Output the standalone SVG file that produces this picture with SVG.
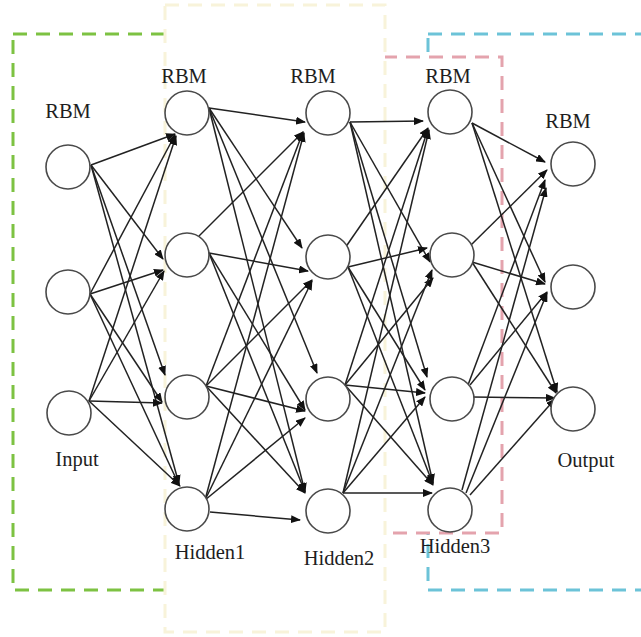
<svg xmlns="http://www.w3.org/2000/svg" width="641" height="637" viewBox="0 0 641 637">
  <style>
    .frame { fill: #ffffff; stroke-width: 3; stroke-dasharray: 14 9; }
    .green { stroke: #7dc242; }
    .blue { stroke: #6cc3d8; }
    .pink { stroke: #e4a3ad; }
    .yellow { stroke: #f8f3da; }
    .edge { stroke: #222222; stroke-width: 1.5; fill: none; marker-end: url(#arrow); }
    .unit { fill: #ffffff; stroke: #4a4a4a; stroke-width: 1.6; }
    .lbl { font-family: "Liberation Serif", "Times New Roman", serif; font-size: 20.5px; fill: #1e1e1e; text-anchor: middle; }
  </style>
  <defs>
    <marker id="arrow" markerUnits="userSpaceOnUse" markerWidth="10" markerHeight="8" refX="9" refY="4" orient="auto">
      <path d="M0,0 L10,4 L0,8 z" fill="#111111"/>
    </marker>
  </defs>

  <rect width="641" height="637" fill="#ffffff"/>

  <!-- RBM stage frames (later frames overlap earlier ones) -->
  <g id="frames">
    <rect id="frame-input" class="frame green" x="13" y="34" width="190" height="556"/>
    <rect id="frame-output" class="frame blue" x="428" y="34" width="235" height="556"/>
    <rect id="frame-hidden3" class="frame pink" x="360" y="57" width="142" height="476"/>
    <rect id="frame-hidden1" class="frame yellow" x="165" y="5" width="220" height="627"/>
  </g>

  <!-- weighted connections between consecutive layers -->
  <g id="connectors">
    <!-- Input -> Hidden1 -->
    <line class="edge" x1="91" y1="165" x2="175" y2="134"/>
    <line class="edge" x1="91" y1="165" x2="163" y2="259"/>
    <line class="edge" x1="91" y1="165" x2="165" y2="375"/>
    <line class="edge" x1="91" y1="165" x2="179" y2="484"/>
    <line class="edge" x1="90" y1="294" x2="175" y2="135"/>
    <line class="edge" x1="90" y1="294" x2="163" y2="270"/>
    <line class="edge" x1="90" y1="294" x2="162" y2="402"/>
    <line class="edge" x1="90" y1="294" x2="179" y2="485"/>
    <line class="edge" x1="89" y1="401" x2="176" y2="136"/>
    <line class="edge" x1="89" y1="401" x2="164" y2="271"/>
    <line class="edge" x1="89" y1="401" x2="162" y2="403"/>
    <line class="edge" x1="89" y1="401" x2="180" y2="486"/>

    <!-- Hidden1 -> Hidden2 -->
    <line class="edge" x1="209" y1="108" x2="305" y2="122"/>
    <line class="edge" x1="209" y1="108" x2="302" y2="248"/>
    <line class="edge" x1="209" y1="108" x2="317" y2="373"/>
    <line class="edge" x1="209" y1="108" x2="305" y2="492"/>
    <line class="edge" x1="199" y1="236" x2="303" y2="132"/>
    <line class="edge" x1="209" y1="253" x2="308" y2="271"/>
    <line class="edge" x1="209" y1="253" x2="305" y2="410"/>
    <line class="edge" x1="209" y1="253" x2="305" y2="492"/>
    <line class="edge" x1="206" y1="386" x2="303" y2="132"/>
    <line class="edge" x1="206" y1="386" x2="312" y2="280"/>
    <line class="edge" x1="206" y1="386" x2="305" y2="411"/>
    <line class="edge" x1="206" y1="386" x2="305" y2="493"/>
    <line class="edge" x1="205" y1="500" x2="304" y2="133"/>
    <line class="edge" x1="205" y1="500" x2="312" y2="281"/>
    <line class="edge" x1="205" y1="500" x2="305" y2="418"/>
    <line class="edge" x1="210" y1="512" x2="300" y2="520"/>

    <!-- Hidden2 -> Hidden3 -->
    <line class="edge" x1="350" y1="122" x2="423" y2="121"/>
    <line class="edge" x1="350" y1="122" x2="430" y2="262"/>
    <line class="edge" x1="350" y1="122" x2="427" y2="377"/>
    <line class="edge" x1="350" y1="122" x2="433" y2="483"/>
    <line class="edge" x1="345" y1="248" x2="428" y2="128"/>
    <line class="edge" x1="348" y1="267" x2="427" y2="248"/>
    <line class="edge" x1="348" y1="267" x2="425" y2="390"/>
    <line class="edge" x1="348" y1="267" x2="433" y2="484"/>
    <line class="edge" x1="345" y1="385" x2="428" y2="129"/>
    <line class="edge" x1="345" y1="385" x2="433" y2="278"/>
    <line class="edge" x1="345" y1="385" x2="425" y2="393"/>
    <line class="edge" x1="345" y1="385" x2="433" y2="485"/>
    <line class="edge" x1="343" y1="493" x2="429" y2="130"/>
    <line class="edge" x1="343" y1="493" x2="432" y2="270"/>
    <line class="edge" x1="343" y1="493" x2="425" y2="397"/>
    <line class="edge" x1="343" y1="493" x2="432" y2="493"/>

    <!-- Hidden3 -> Output -->
    <line class="edge" x1="472" y1="123" x2="545" y2="162"/>
    <line class="edge" x1="472" y1="123" x2="545" y2="282"/>
    <line class="edge" x1="472" y1="123" x2="557" y2="392"/>
    <line class="edge" x1="471" y1="245" x2="547" y2="170"/>
    <line class="edge" x1="472" y1="262" x2="545" y2="284"/>
    <line class="edge" x1="472" y1="262" x2="556" y2="393"/>
    <line class="edge" x1="468" y1="385" x2="545" y2="180"/>
    <line class="edge" x1="470" y1="385" x2="547" y2="292"/>
    <line class="edge" x1="472" y1="397" x2="555" y2="398"/>
    <line class="edge" x1="462" y1="490" x2="546" y2="188"/>
    <line class="edge" x1="466" y1="493" x2="547" y2="293"/>
    <line class="edge" x1="470" y1="495" x2="555" y2="399"/>
  </g>

  <!-- Input layer -->
  <g id="input-layer">
    <text class="lbl" x="68" y="118">RBM</text>
    <circle id="in-1" class="unit" cx="68" cy="167" r="22"/>
    <circle id="in-2" class="unit" cx="68" cy="292" r="22"/>
    <circle id="in-3" class="unit" cx="69" cy="413" r="22"/>
    <text class="lbl" x="77" y="466">Input</text>
  </g>

  <!-- Hidden layer 1 -->
  <g id="hidden1-layer">
    <text class="lbl" x="184" y="83">RBM</text>
    <circle id="h1-1" class="unit" cx="187" cy="113" r="22"/>
    <circle id="h1-2" class="unit" cx="187" cy="255" r="22"/>
    <circle id="h1-3" class="unit" cx="187" cy="397" r="22"/>
    <circle id="h1-4" class="unit" cx="187" cy="509" r="22"/>
    <text class="lbl" x="210" y="559">Hidden1</text>
  </g>

  <!-- Hidden layer 2 -->
  <g id="hidden2-layer">
    <text class="lbl" x="313" y="83">RBM</text>
    <circle id="h2-1" class="unit" cx="328" cy="113" r="22"/>
    <circle id="h2-2" class="unit" cx="328" cy="257" r="22"/>
    <circle id="h2-3" class="unit" cx="328" cy="399" r="22"/>
    <circle id="h2-4" class="unit" cx="328" cy="511" r="22"/>
    <text class="lbl" x="339" y="565">Hidden2</text>
  </g>

  <!-- Hidden layer 3 -->
  <g id="hidden3-layer">
    <text class="lbl" x="448" y="83">RBM</text>
    <circle id="h3-1" class="unit" cx="450" cy="112" r="22"/>
    <circle id="h3-2" class="unit" cx="452" cy="255" r="22"/>
    <circle id="h3-3" class="unit" cx="452" cy="399" r="22"/>
    <circle id="h3-4" class="unit" cx="450" cy="510" r="22"/>
    <text class="lbl" x="455" y="553">Hidden3</text>
  </g>

  <!-- Output layer -->
  <g id="output-layer">
    <text class="lbl" x="568" y="128">RBM</text>
    <circle id="out-1" class="unit" cx="573" cy="164" r="22"/>
    <circle id="out-2" class="unit" cx="573" cy="287" r="22"/>
    <circle id="out-3" class="unit" cx="573" cy="409" r="22"/>
    <text class="lbl" x="586" y="467">Output</text>
  </g>
</svg>
